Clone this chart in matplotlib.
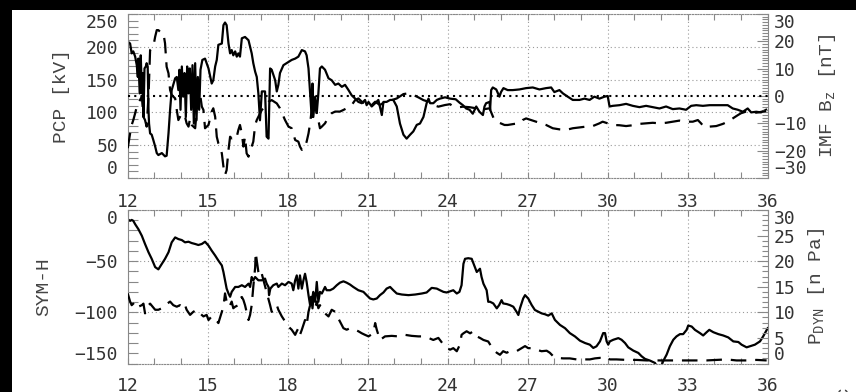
import matplotlib
matplotlib.use('Agg')
import matplotlib.pyplot as plt
from matplotlib.ticker import MultipleLocator
from matplotlib.patches import Rectangle
import numpy as np

# ---- data (hours of day, 12..36) ----
pcp_t = [12.0, 12.09, 12.15, 12.21, 12.28, 12.34, 12.38, 12.40, 12.45, 12.49,
         12.53, 12.56, 12.59, 12.63, 12.68, 12.71, 12.75, 12.78, 12.80, 12.84,
         12.9, 12.96, 13.03, 13.09, 13.15, 13.28, 13.4, 13.46, 13.53, 13.59,
         13.65, 13.78, 13.84, 13.9, 13.94, 13.98, 14.03, 14.08, 14.13, 14.18,
         14.23, 14.28, 14.33, 14.38, 14.43, 14.48, 14.53, 14.58, 14.63, 14.68,
         14.73, 14.8, 14.9, 15.03, 15.15, 15.21, 15.28, 15.34, 15.4, 15.53,
         15.59, 15.65, 15.71, 15.78, 15.84, 15.9, 15.96, 16.03, 16.09, 16.15,
         16.21, 16.28, 16.4, 16.53, 16.59, 16.65, 16.71, 16.78, 16.84, 16.9,
         16.96, 17.03, 17.15, 17.21, 17.28, 17.34, 17.4, 17.53, 17.59, 17.65,
         17.71, 17.84, 18.03, 18.15, 18.28, 18.4, 18.53, 18.65, 18.71, 18.78,
         18.84, 18.9, 18.93, 18.96, 19.03, 19.09, 19.15, 19.21, 19.28, 19.4,
         19.53, 19.65, 19.78, 19.9, 20.03, 20.15, 20.28, 20.4, 20.53, 20.65,
         20.78, 20.9, 20.96, 21.03, 21.15, 21.28, 21.4, 21.53, 21.59, 21.71,
         21.84, 21.96, 22.09, 22.21, 22.34, 22.46, 22.59, 22.71, 22.84, 22.96,
         23.09, 23.21, 23.28, 23.34, 23.46, 23.59, 23.71, 23.9, 24.09,
         24.3, 24.44, 24.57, 24.69, 24.82, 24.94, 25.07, 25.19, 25.32, 25.38,
         25.44, 25.57, 25.59, 25.63, 25.69, 25.82, 25.94, 26.0, 26.09, 26.25,
         26.44, 26.69, 26.94, 27.19, 27.44, 27.69, 27.88, 28.0, 28.19, 28.32,
         28.5, 28.69, 28.94, 29.13, 29.32, 29.5, 29.69, 29.88, 30.0, 30.07,
         30.19, 30.44, 30.69, 30.94, 31.19, 31.44, 31.69, 31.94, 32.19, 32.44,
         32.69, 32.94, 33.13, 33.32, 33.57, 33.82, 34.07, 34.32, 34.5, 34.69,
         34.88, 35.07, 35.25, 35.38, 35.57, 35.75, 35.94]
pcp = [208, 205, 190, 193, 185, 172, 154, 182, 129, 187,
       129, 160, 93, 167, 170, 175, 170, 104, 83, 68,
       66, 58, 48, 38, 35, 38, 33, 34, 68, 104,
       134, 152, 154, 134, 165, 104, 170, 124, 160, 93,
       170, 129, 167, 104, 172, 83, 175, 88, 154, 104,
       165, 180, 182, 167, 144, 149, 170, 180, 203, 205,
       233, 237, 233, 205, 190, 195, 187, 193, 185, 190,
       185, 213, 215, 210, 200, 190, 175, 162, 154, 129,
       88, 132, 132, 63, 60, 167, 165, 149, 132, 142,
       160, 172, 177, 180, 182, 185, 195, 193, 187, 167,
       129, 93, 144, 93, 124, 99, 129, 167, 170, 165,
       152, 149, 142, 144, 139, 142, 134, 126, 121, 116,
       114, 119, 111, 116, 109, 114, 119, 96, 116, 116,
       119, 119, 109, 83, 66, 60, 66, 71, 81, 83,
       93, 114, 121, 114, 114, 119, 121, 123, 121,
       120, 115, 111, 106, 104, 98, 109, 101, 96, 109,
       114, 116, 104, 134, 138, 135, 124, 131, 137, 134,
       134, 135, 137, 138, 135, 137, 138, 131, 134, 129,
       124, 119, 119, 121, 119, 124, 121, 124, 125, 109,
       110, 111, 113, 110, 108, 110, 108, 106, 109, 105,
       106, 104, 110, 111, 110, 111, 111, 111, 111, 106,
       104, 101, 106, 100, 101, 100, 104]

bz_t = [12.0, 12.09, 12.15, 12.21, 12.28, 12.34, 12.4, 12.46, 12.53, 12.59,
        12.65, 12.71, 12.78, 12.84, 12.9, 12.96, 13.03, 13.09, 13.15, 13.28,
        13.34, 13.4, 13.46, 13.53, 13.59, 13.65, 13.78, 13.84, 13.9, 14.03,
        14.15, 14.21, 14.28, 14.34, 14.4, 14.53, 14.59, 14.65, 14.71, 14.78,
        14.84, 14.9, 15.03, 15.15, 15.21, 15.28, 15.34, 15.4, 15.46, 15.53,
        15.59, 15.65, 15.71, 15.78, 15.84, 15.9, 16.03, 16.09, 16.15, 16.21,
        16.28, 16.34, 16.4, 16.46, 16.53, 16.59, 16.65, 16.71, 16.78, 16.84,
        16.9, 17.03, 17.15, 17.28, 17.4, 17.59, 17.71, 17.9, 18.03, 18.15,
        18.28, 18.4, 18.46, 18.53, 18.59, 18.65, 18.71, 18.78, 18.84, 18.9,
        18.96, 19.03, 19.15, 19.21, 19.28, 19.4, 19.53, 19.65, 19.78, 19.96,
        20.09, 20.21, 20.4, 20.53, 20.65, 20.78, 20.9, 21.09, 21.28, 21.46,
        21.65, 21.9, 22.09, 22.34, 22.53, 22.71, 22.9, 23.09, 23.28, 23.46,
        23.65, 23.9, 24.09,
        24.19, 24.44, 24.57, 24.82, 25.07, 25.32, 25.57, 25.75, 25.94, 26.13,
        26.25, 26.5, 26.69, 26.81, 26.94, 27.19, 27.44, 27.69, 27.94, 28.19,
        28.44, 28.69, 28.94, 29.19, 29.44, 29.69, 29.81, 30.0, 30.19, 30.44,
        30.69, 30.94, 31.19, 31.44, 31.69, 31.94, 32.19, 32.44, 32.69, 32.94,
        33.19, 33.38, 33.5, 33.63, 33.82, 34.07, 34.32, 34.5, 34.69, 34.88,
        35.0, 35.19, 35.38, 35.57, 35.82, 35.94]
bz = [-19.1, -13.7, -10.6, -8.8, -6.3, -3.9, -3.3, -1.5, -0.2, -7.6,
      -8.8, -11.2, -0.2, 16.8, 17.4, 18, 21.7, 24.1, 24.1, 22.9,
      22.9, 19.3, 10.7, 8.3, 2.2, 0.4, -0.9, -5.1, -8.8, -6.3,
      -7.6, -10, -11.2, -8.2, -10.6, -11.8, -5.1, 1.6, 1, -3.9,
      -5.1, -11.8, -10.6, -5.7, -4.5, -7.6, -14.9, -17.3, -18.5, -21,
      -25.8, -28.9, -27.1, -19.7, -14.9, -15.5, -14.3, -14.9, -12.4, -10.6,
      -13.7, -18.5, -14.9, -21, -22.2, -19.7, -18.5, -16.7, -10.6, -8.8,
      -7.6, -5.1, -3.9, -2.1, -1.5, -2.7, -4.5, -8.8, -11.2, -11.8,
      -16.1, -16.7, -18.5, -19.7, -18.5, -18.5, -16.7, -13.7, -10, -5.1,
      -0.2, -3.9, -8.8, -11.8, -11.2, -10, -7.6, -6.3, -5.7, -5.7,
      -5.1, -4.5, -3.3, -1.5, -0.9, -2.1, -2.7, -3.9, -2.1, -3.3,
      -2.1, -1.5, -0.9, 0.7, 1, 0.4, -0.5, -1.5, -2.1, -3.3,
      -3.9, -3.3, -3,
      -3.7, -4.1, -3.9, -4.1, -4.5, -4.9, -4.5, -8.8, -9.8, -10.6,
      -10.6, -10.2, -10, -8.8, -8.2, -9, -9.8, -10.6, -11.8, -12.2,
      -12.4, -11.8, -11.5, -11.2, -11, -10, -9.4, -10, -10.6, -10.7,
      -11, -10.7, -10.2, -10, -9.8, -10, -9.8, -9.4, -9, -9.4,
      -9.4, -8.8, -10, -11.5, -11.2, -11, -10.2, -9.4, -8.2, -7,
      -6.3, -5.7, -5.7, -6.1, -5.7, -5.5]

sym_t = [12.0, 12.09, 12.15, 12.21, 12.28, 12.4, 12.53, 12.65, 12.78, 12.9,
         13.03, 13.15, 13.28, 13.4, 13.53, 13.65, 13.78, 13.9, 14.03, 14.15,
         14.28, 14.4, 14.53, 14.65, 14.78, 14.9, 15.03, 15.15, 15.28, 15.4,
         15.53, 15.59, 15.65, 15.71, 15.78, 15.84, 15.9, 16.03, 16.15, 16.28,
         16.4, 16.53, 16.59, 16.65, 16.71, 16.78, 16.9, 17.03, 17.15, 17.21,
         17.28, 17.3, 17.35, 17.46, 17.59, 17.65, 17.78, 17.9, 18.03, 18.15,
         18.21, 18.28, 18.34, 18.4, 18.46, 18.53, 18.59, 18.65, 18.71, 18.78,
         18.84, 18.88, 18.93, 18.98, 19.03, 19.09, 19.15, 19.21, 19.28, 19.34,
         19.4, 19.46, 19.59, 19.71, 19.84, 19.96, 20.09, 20.21, 20.34, 20.46,
         20.65, 20.84, 20.96, 21.09, 21.21, 21.34, 21.46, 21.59, 21.71, 21.84,
         21.96, 22.09, 22.28, 22.53, 22.78, 23.03, 23.21, 23.4, 23.59,
         23.71, 23.84, 23.96, 24.09, 24.21, 24.34, 24.44, 24.52, 24.59, 24.65,
         24.77, 24.9, 25.02, 25.09, 25.15, 25.21, 25.27, 25.34, 25.46, 25.52,
         25.59, 25.71, 25.84, 25.93, 26.02, 26.08, 26.21, 26.33, 26.46, 26.58,
         26.65, 26.71, 26.83, 26.9, 27.02, 27.15, 27.27, 27.4, 27.52, 27.65,
         27.77, 27.9, 28.02, 28.21, 28.4, 28.58, 28.77, 28.96, 29.15, 29.33,
         29.46, 29.58, 29.71, 29.83, 29.9, 29.96, 30.02, 30.08, 30.21, 30.4,
         30.52, 30.65, 30.77, 30.96, 31.15, 31.27, 31.4, 31.58, 31.77, 31.9,
         32.02, 32.08, 32.21, 32.33, 32.46, 32.58, 32.71, 32.83, 32.96, 33.02,
         33.15, 33.27, 33.46, 33.58, 33.71, 33.81, 33.96, 34.15, 34.33, 34.52,
         34.71, 34.9, 35.02, 35.21, 35.33, 35.52, 35.71, 35.83, 36.0]
sym = [-9, -10.6, -9.7, -10.6, -13.9, -18.7, -25.2, -33.2, -41.3, -47.7,
       -55.8, -58, -52.6, -47.7, -41.3, -31.6, -26.8, -28.4, -29.4, -31.6,
       -31, -32.3, -33.2, -34.2, -33.2, -31, -34.8, -39.7, -44.5, -49.4,
       -54.2, -60.6, -68.7, -76.8, -81.6, -84.8, -80, -75.2, -75.2, -73.5,
       -75.2, -72, -75.2, -65.5, -68.7, -65.5, -68.7, -68.7, -67, -71.9,
       -75.2, -83.2, -76.8, -73.5, -71.9, -75.2, -71.9, -73.5, -70.3, -71.9,
       -78.4, -68.7, -63.9, -76.8, -63.9, -76.8, -68.7, -62.3, -70.3, -83.2,
       -92.9, -84.8, -96.1, -81.6, -89.7, -70.3, -89.7, -80, -81.6, -78.4,
       -75.2, -78.4, -78.4, -76.8, -73.5, -71, -69.7, -71, -72.9, -75.2,
       -78.4, -80, -83.2, -86.5, -87.4, -86.5, -83.2, -80.6, -76.8, -75.2,
       -78.4, -81.6, -82.6, -83.2, -82.6, -81.6, -80.6, -76.1, -76.8,
       -78.4, -80, -80.6, -79.4, -78.4, -81.6, -80, -73.5, -52.6, -47.7,
       -47.1, -47.7, -55.8, -60.6, -59, -57.4, -65.5, -72, -78.4, -89.7,
       -89.7, -91.3, -96.1, -92.9, -88.1, -91.3, -91.9, -92.9, -94.5, -99.4,
       -102.6, -96.1, -86.5, -83.2, -86.5, -92.9, -97.7, -99.4, -101, -101.9,
       -103.2, -101, -107.4, -112.3, -115.5, -120.3, -123.5, -127.7, -130, -131.6,
       -134.8, -133.2, -128.4, -120.3, -120.3, -128.4, -131.6, -128.4, -126.8, -125.2,
       -126.8, -130, -134.2, -137.4, -139.7, -142.9, -145.5, -147.1, -149.4, -155,
       -152, -147.7, -141.3, -133.2, -126.8, -123.5, -121.3, -121.3, -117.1, -112.9,
       -113.9, -117.1, -120.3, -122.6, -119.4, -117.1, -119.4, -121.3, -122.6, -124.5,
       -128.4, -129, -131.6, -134.2, -133.2, -131.6, -128.4, -123.5, -115.5]

pdyn_t = [12.0, 12.09, 12.15, 12.21, 12.28, 12.4, 12.53, 12.59, 12.65, 12.71,
          12.78, 12.84, 13.03, 13.15, 13.28, 13.4, 13.59, 13.71, 13.84, 13.96,
          14.09, 14.15, 14.21, 14.34, 14.46, 14.59, 14.71, 14.84, 14.96, 15.03,
          15.15, 15.28, 15.4, 15.53, 15.59, 15.65, 15.71, 15.78, 15.84, 15.9,
          15.96, 16.03, 16.15, 16.21, 16.28, 16.34, 16.4, 16.46, 16.53, 16.59,
          16.65, 16.71, 16.78, 16.8, 16.84, 16.9, 16.96, 17.03, 17.09, 17.34,
          17.4, 17.53, 17.59, 17.65, 17.78, 18.03, 18.15, 18.28, 18.34, 18.4,
          18.46, 18.53, 18.65, 18.71, 18.78, 18.84, 18.9, 18.96, 19.03, 19.09,
          19.15, 19.21, 19.28, 19.4, 19.53, 19.65, 19.78, 19.9, 20.09, 20.21,
          20.34, 20.53, 20.65, 20.78, 20.9, 21.03, 21.21, 21.28, 21.34, 21.46,
          21.65, 21.9, 22.15, 22.4, 22.65, 22.9, 23.09, 23.28, 23.46, 23.65,
          23.84, 23.96, 24.09, 24.21, 24.34, 24.46, 24.52, 24.59, 24.71, 24.84,
          24.96, 25.09, 25.21, 25.34, 25.52, 25.59, 25.71, 25.84, 25.96, 26.08,
          26.21, 26.33, 26.46, 26.58, 26.77, 26.9, 27.02, 27.21, 27.33, 27.52,
          27.71, 27.83, 27.96, 28.08, 28.33, 28.58, 28.83, 29.08, 29.33, 29.52,
          29.71, 29.9, 29.96, 30.08, 30.33, 30.71, 31.08, 31.46, 31.83, 32.21,
          32.58, 32.96, 33.33, 33.71, 34.08, 34.46, 34.83, 35.21, 35.58, 35.96]
pdyn = [13.7, 12.1, 11.4, 11.7, 12.1, 11.1, 11.4, 11.7, 9.8, 10.8,
        11.4, 11.7, 10.5, 10.5, 10.8, 11.4, 12.1, 11.4, 11.1, 11.4,
        10.8, 11.4, 10.5, 9.5, 10.1, 10.5, 9.8, 9.2, 9.5, 8.5,
        9.2, 8.8, 7.9, 10.1, 11.1, 13.7, 12.1, 12.4, 11.4, 12.1,
        10.8, 11.1, 11.4, 12.7, 13, 12.4, 11.4, 10.1, 8.5, 9.5,
        11.4, 15, 18.8, 21.7, 20.1, 17.9, 16.9, 17.5, 16.3, 11.4,
        10.1, 10.8, 11.4, 10.5, 9.2, 7.2, 6.6, 5.6, 6.3, 6.9,
        5.6, 6.6, 8.5, 7.5, 10.1, 11.4, 12.1, 14, 10.8, 12.1,
        10.8, 11.4, 10.8, 9.8, 9.2, 10.5, 10.1, 8.8, 6.9, 6.6,
        6.9, 6.6, 6.3, 5.9, 5.6, 5.3, 5.9, 7.9, 6.6, 4.6,
        5.3, 5.4, 5.3, 5.6, 5.4, 5.3, 5.3, 5.0, 4.6, 5.0,
        3.7, 3.0, 2.7, 3.0, 2.4, 3.7, 5.6, 5.9, 6.3, 5.9,
        6.3, 5.3, 5.0, 4.6, 4.3, 3.7, 2.7, 2.1, 1.7, 2.4,
        2.1, 2.4, 2.3, 2.4, 3.0, 3.4, 3.0, 3.0, 2.7, 2.4,
        2.5, 2.1, 1.4, 1.1, 1.0, 1.0, 0.8, 0.8, 0.8, 1.0,
        1.1, 1.0, 1.2, 0.8, 0.8, 0.7, 0.7, 0.6, 0.6, 0.6,
        0.6, 0.6, 0.6, 0.6, 0.7, 0.8, 0.6, 0.6, 0.7, 0.6]

assert len(pcp_t) == len(pcp) and len(bz_t) == len(bz)
assert len(sym_t) == len(sym) and len(pdyn_t) == len(pdyn)

plt.rcParams['mathtext.fontset'] = 'custom'
plt.rcParams['mathtext.rm'] = 'Liberation Mono'
plt.rcParams['mathtext.it'] = 'Liberation Mono'

TICK_C = '#888888'
TXT_C = '#333333'
LAB_C = '#444444'
TICK_FONT = 'DejaVu Sans Mono'
LAB_FONT = 'Liberation Mono'
DASH = (7, 4)

W, H = 856, 392
fig = plt.figure(figsize=(W / 100, H / 100), dpi=100, facecolor='black')
fig.patches.append(Rectangle((12 / W, 0), 1, 1 - 10 / H, transform=fig.transFigure,
                             facecolor='white', edgecolor='none', zorder=-5))

ax1 = fig.add_axes([127.7 / W, 1 - 178 / H, 640 / W, 164 / H])
ax2 = fig.add_axes([127.7 / W, 1 - 363.5 / H, 640 / W, 153.5 / H])
ax1r = ax1.twinx()
ax2r = ax2.twinx()


def style(ax, axr, lticks, lminor, rticks, rminor, xpad):
    ax.set_xlim(12, 36)
    ax.xaxis.set_major_locator(MultipleLocator(3))
    ax.xaxis.set_minor_locator(MultipleLocator(1))
    ax.tick_params(axis='x', which='both', direction='in', top=True, bottom=True,
                   length=4, width=0.8, color=TICK_C, labelsize=13,
                   labelcolor=TXT_C, pad=xpad)
    ax.set_yticks(lticks)
    ax.yaxis.set_minor_locator(MultipleLocator(lminor))
    ax.tick_params(axis='y', which='both', direction='in', left=True, right=False,
                   length=7, width=0.8, color=TICK_C, labelsize=13,
                   labelcolor=TXT_C, pad=7)
    axr.set_yticks(rticks)
    axr.yaxis.set_minor_locator(MultipleLocator(rminor))
    axr.tick_params(axis='y', which='major', direction='in', length=8, width=0.8,
                    color=TICK_C, labelsize=13, labelcolor=TXT_C, pad=4.5)
    axr.tick_params(axis='y', which='minor', direction='in', length=4, width=0.8,
                    color=TICK_C)
    for lab in ax.get_xticklabels() + ax.get_yticklabels() + axr.get_yticklabels():
        lab.set_fontfamily(TICK_FONT)
    ax.grid(True, which='major', color='#999999', linestyle=(0, (1, 2.5)), linewidth=0.8)
    for s in ['top', 'bottom']:
        ax.spines[s].set_linestyle((0, (1, 1.5)))
        ax.spines[s].set_color(TICK_C)
        axr.spines[s].set_visible(False)
    ax.spines['left'].set_color(TICK_C)
    ax.spines['right'].set_visible(False)
    axr.spines['right'].set_color(TICK_C)
    axr.spines['left'].set_visible(False)
    for a in (ax, axr):
        labs = a.get_yticklabels()
        labs[0].set_verticalalignment('bottom')
        labs[-1].set_verticalalignment('top')


# top panel: PCP (left), IMF Bz (right)
ax1.plot(pcp_t, pcp, color='black', linewidth=1.6)
ax1.set_ylim(0, 250)
ax1r.set_ylim(-30, 30)
ax1r.axhline(0, color='black', linestyle=(0, (1, 2)), linewidth=1.5)
ax1r.plot(bz_t, bz, color='black', linewidth=1.6, dashes=DASH)
style(ax1, ax1r, np.arange(0, 251, 50), 10, np.arange(-30, 31, 10), 1, 11)

# bottom panel: SYM-H (left), P_DYN (right)
ax2.plot(sym_t, sym, color='black', linewidth=1.6)
ax2.set_ylim(-150, 0)
ax2r.set_ylim(0, 30)
ax2r.plot(pdyn_t, pdyn, color='black', linewidth=1.6, dashes=DASH)
style(ax2, ax2r, np.arange(-150, 1, 50), 10, np.arange(0, 31, 5), 1, 10)

ax1.set_ylabel('PCP [kV]', fontfamily=LAB_FONT, fontsize=14, color=LAB_C)
ax1.yaxis.set_label_coords(-0.104, 0.5)
ax2.set_ylabel('SYM-H', fontfamily=LAB_FONT, fontsize=14, color=LAB_C)
ax2.yaxis.set_label_coords(-0.131, 0.5)
ax1r.set_ylabel(r'IMF B$_\mathrm{z}$ [nT]', fontfamily=LAB_FONT, fontsize=14,
                color=LAB_C, rotation=90)
ax1r.yaxis.set_label_coords(1.093, 0.5)
ax2r.set_ylabel(r'P$_\mathrm{DYN}$ [n Pa]', fontfamily=LAB_FONT, fontsize=14,
                color=LAB_C, rotation=90)
ax2r.yaxis.set_label_coords(1.077, 0.5)
for a in (ax1, ax2, ax1r, ax2r):
    a.yaxis.label.set_verticalalignment('center')

fig.text(843 / W, 0.0, 'c', rotation=90, fontfamily=LAB_FONT, fontsize=13,
         color=LAB_C, ha='center', va='center')

fig.savefig('out.png', dpi=100, facecolor='black')
